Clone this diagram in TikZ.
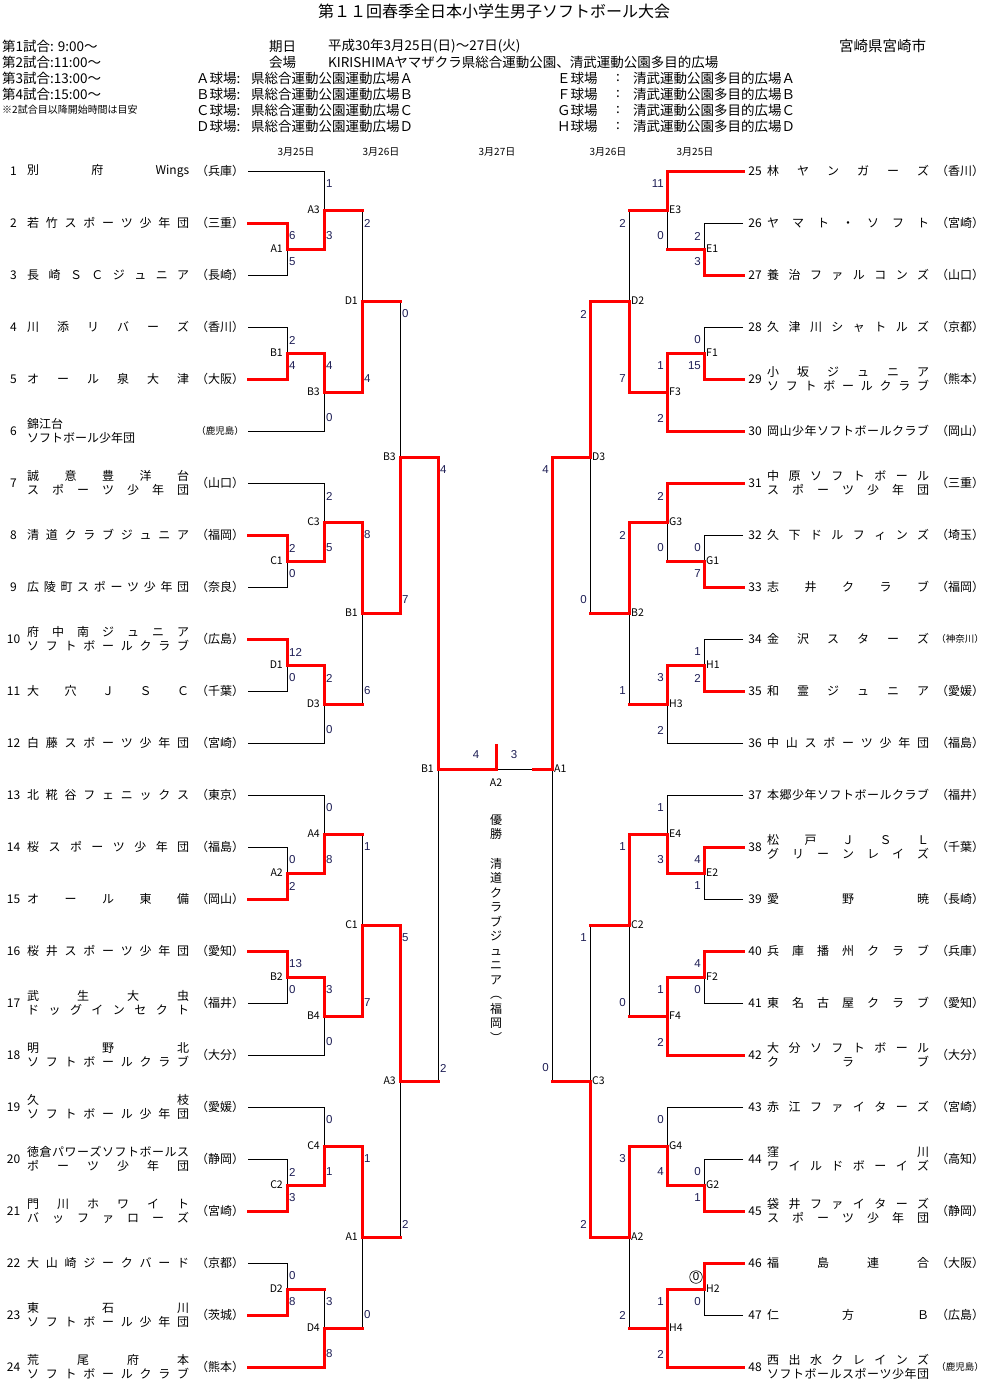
\documentclass[tikz,border=0pt]{standalone}
\usepackage{fontspec}
\setmainfont{Noto Sans CJK JP}
\newfontfamily\scfont{Liberation Sans}
\usetikzlibrary{calc}
\pgfdeclarelayer{fg}
\pgfsetlayers{main,fg}
\definecolor{scorecol}{RGB}{30,30,85}
\definecolor{winred}{RGB}{255,0,0}
\newcommand\pfsmall{\fontsize{9.5}{9.5}\selectfont}
\ExplSyntaxOn
\seq_new:N \l_spr_seq
\NewDocumentCommand \spr { O{162pt} m }
  {
    \seq_set_split:Nnn \l_spr_seq { ~ } { #2 }
    \makebox[#1]{ \seq_use:Nn \l_spr_seq { \hfill } }
  }
\ExplSyntaxOff
\tikzset{
 ln/.style={draw=black,line width=1pt},
 win/.style={draw=winred,line width=3pt,line cap=rect,line join=miter},
 sc/.style={inner sep=0pt,font=\scfont\fontsize{11.5}{11.5}\selectfont,text=scorecol},
 mlab/.style={inner sep=0pt,font=\fontsize{10.5}{11}\selectfont},
 nm/.style={inner sep=0pt,font=\fontsize{12}{12}\selectfont},
 num/.style={inner sep=0pt,font=\fontsize{12}{12}\selectfont},
 pf/.style={inner sep=0pt,font=\fontsize{12}{12}\selectfont},
 hd/.style={inner sep=0pt,anchor=west,font=\fontsize{13.5}{13.5}\selectfont},
 dt/.style={inner sep=0pt,font=\fontsize{10}{10}\selectfont},
}
% codes: 1 top wins, 2 bottom wins, 3 top wins + red stub of bottom,
% 4 bottom wins + red stub of top, 5 bottom wins + red top path
\newcommand\winpaths[3]{%
 \begin{pgfonlayer}{fg}
 \ifcase#3\or \draw[win] (#1) -| (#2);
 \or \draw[win] (#1) -| (#2);
 \or \draw[win] (#1) -| (#2);
 \or \draw[win] (#1) -| (#2);
 \or \draw[win] (#1) -| (#2);
 \fi
 \end{pgfonlayer}}
\newcommand\redpaths[4]{%
 \begin{pgfonlayer}{fg}
 \ifcase#4\or \draw[win] (#2) -| (#1);
 \or \draw[win] (#3) -| (#1);
 \or \draw[win] (#2) -| (#1); \draw[win] (#3) -- (#3 -| #1);
 \or \draw[win] (#3) -| (#1); \draw[win] (#2) -- (#2 -| #1);
 \or \draw[win] (#3) -| (#1); \draw[win] (#2) -| (#1);
 \fi
 \end{pgfonlayer}}
% match on the left half: name, x, junction y, top source, bottom source, label, top score, bottom score, code
\newcommand\mL[9]{%
 \coordinate (#1) at (#2,#3);
 \draw[ln] (#4) -| (#1);
 \draw[ln] (#5) -| (#1);
 \node[mlab,anchor=east] (#1-l) at ($(#1)+(-4,0)$) {#6};
 \node[sc,anchor=west] (#1-a) at ($(#1 |- #4)+(2,13)$) {#7};
 \node[sc,anchor=west] (#1-b) at ($(#1 |- #5)+(2,-13)$) {#8};
 \redpaths{#1}{#4}{#5}{#9}}
\newcommand\mR[9]{%
 \coordinate (#1) at (#2,#3);
 \draw[ln] (#4) -| (#1);
 \draw[ln] (#5) -| (#1);
 \node[mlab,anchor=west] (#1-l) at ($(#1)+(2,0)$) {#6};
 \node[sc,anchor=east] (#1-a) at ($(#1 |- #4)+(-3,13)$) {#7};
 \node[sc,anchor=east] (#1-b) at ($(#1 |- #5)+(-3,-13)$) {#8};
 \redpaths{#1}{#4}{#5}{#9}}
% teams
\newcommand\tL[4]{%
 \coordinate (t#1) at (248,#2);
 \node[num] (no#1) at (13.5,#2) {#1};
 \node[nm,anchor=west] (nm#1) at (27,#2) {\spr{#3}};
 \node[pf] (pf#1) at (220,#2) {#4};}
\newcommand\tLL[5]{%
 \coordinate (t#1) at (248,#2);
 \node[num] (no#1) at (13.5,#2) {#1};
 \node[nm,anchor=west] (nm#1a) at (27,#2-7) {\spr{#3}};
 \node[nm,anchor=west] (nm#1b) at (27,#2+7) {\spr{#4}};
 \node[pf] (pf#1) at (220,#2) {#5};}
\newcommand\tR[4]{%
 \coordinate (t#1) at (743,#2);
 \node[num] (no#1) at (755,#2) {#1};
 \node[nm,anchor=west] (nm#1) at (767,#2) {\spr{#3}};
 \node[pf] (pf#1) at (960,#2) {#4};}
\newcommand\tRR[5]{%
 \coordinate (t#1) at (743,#2);
 \node[num] (no#1) at (755,#2) {#1};
 \node[nm,anchor=west] (nm#1a) at (767,#2-7) {\spr{#3}};
 \node[nm,anchor=west] (nm#1b) at (767,#2+7) {\spr{#4}};
 \node[pf] (pf#1) at (960,#2) {#5};}
\begin{document}
\begin{tikzpicture}[x=1pt,y=-1pt]
\useasboundingbox (0,0) rectangle (990,1394);
\fill[white] (0,0) rectangle (990,1394);
% header
\node[inner sep=0pt,font=\fontsize{16}{16}\selectfont] (title) at (494,11) {第１１回春季全日本小学生男子ソフトボール大会};
\node[hd] (g1) at (2,46) {第1試合: 9:00～};
\node[hd] (g2) at (2,62) {第2試合:11:00～};
\node[hd] (g3) at (2,78) {第3試合:13:00～};
\node[hd] (g4) at (2,94) {第4試合:15:00～};
\node[hd,font=\fontsize{10}{10}\selectfont] (g5) at (2,110) {※2試合目以降開始時間は目安};
\node[hd] (kd) at (269,46) {期日};
\node[hd] (kdv) at (328,46) {平成30年3月25日(日)～27日(火)};
\node[hd] (kj) at (269,62) {会場};
\node[hd] (kjv) at (328,62) {KIRISHIMAヤマザクラ県総合運動公園、清武運動公園多目的広場};
\node[hd,font=\fontsize{14.5}{14.5}\selectfont] (miy) at (839,46) {宮崎県宮崎市};
\node[hd] (fa) at (196,78) {Ａ球場:};
\node[hd] (fav) at (251,78) {県総合運動公園運動広場Ａ};
\node[hd] (fb) at (196,94) {Ｂ球場:};
\node[hd] (fbv) at (251,94) {県総合運動公園運動広場Ｂ};
\node[hd] (fc) at (196,110) {Ｃ球場:};
\node[hd] (fcv) at (251,110) {県総合運動公園運動広場Ｃ};
\node[hd] (fd) at (196,126) {Ｄ球場:};
\node[hd] (fdv) at (251,126) {県総合運動公園運動広場Ｄ};
\node[hd] (fe) at (557,78) {Ｅ球場};
\node[hd] (fec) at (616,78) {:};
\node[hd] (fev) at (633,78) {清武運動公園多目的広場Ａ};
\node[hd] (ff) at (557,94) {Ｆ球場};
\node[hd] (ffc) at (616,94) {:};
\node[hd] (ffv) at (633,94) {清武運動公園多目的広場Ｂ};
\node[hd] (fg) at (557,110) {Ｇ球場};
\node[hd] (fgc) at (616,110) {:};
\node[hd] (fgv) at (633,110) {清武運動公園多目的広場Ｃ};
\node[hd] (fh) at (557,126) {Ｈ球場};
\node[hd] (fhc) at (616,126) {:};
\node[hd] (fhv) at (633,126) {清武運動公園多目的広場Ｄ};
\node[dt] (d1) at (296,152) {3月25日};
\node[dt] (d2) at (381,152) {3月26日};
\node[dt] (d3) at (497,152) {3月27日};
\node[dt] (d4) at (608,152) {3月26日};
\node[dt] (d5) at (695,152) {3月25日};
% left teams
\tL{1}{171}{別 府 Wings}{（兵庫）}
\tL{2}{223}{若 竹 ス ポ ー ツ 少 年 団}{（三重）}
\tL{3}{275}{長 崎 Ｓ Ｃ ジ ュ ニ ア}{（長崎）}
\tL{4}{327}{川 添 リ バ ー ズ}{（香川）}
\tL{5}{379}{オ ー ル 泉 大 津}{（大阪）}
\coordinate (t6) at (248,431);
\node[num] (no6) at (13.5,431) {6};
\node[nm,anchor=west] (nm6a) at (27,424) {錦江台};
\node[nm,anchor=west] (nm6b) at (27,438) {ソフトボール少年団};
\node[pf] (pf6) at (220,431) {\pfsmall（鹿児島）};
\tLL{7}{483}{誠 意 豊 洋 台}{ス ポ ー ツ 少 年 団}{（山口）}
\tL{8}{535}{清 道 ク ラ ブ ジ ュ ニ ア}{（福岡）}
\tL{9}{587}{広 陵 町 ス ポ ー ツ 少 年 団}{（奈良）}
\tLL{10}{639}{府 中 南 ジ ュ ニ ア}{ソ フ ト ボ ー ル ク ラ ブ}{（広島）}
\tL{11}{691}{大 穴 Ｊ Ｓ Ｃ}{（千葉）}
\tL{12}{743}{白 藤 ス ポ ー ツ 少 年 団}{（宮崎）}
\tL{13}{795}{北 糀 谷 フ ェ ニ ッ ク ス}{（東京）}
\tL{14}{847}{桜 ス ポ ー ツ 少 年 団}{（福島）}
\tL{15}{899}{オ ー ル 東 備}{（岡山）}
\tL{16}{951}{桜 井 ス ポ ー ツ 少 年 団}{（愛知）}
\tLL{17}{1003}{武 生 大 虫}{ド ッ グ イ ン セ ク ト}{（福井）}
\tLL{18}{1055}{明 野 北}{ソ フ ト ボ ー ル ク ラ ブ}{（大分）}
\tLL{19}{1107}{久 枝}{ソ フ ト ボ ー ル 少 年 団}{（愛媛）}
\tLL{20}{1159}{徳 倉 パ ワ ー ズ ソ フ ト ボ ー ル ス}{ポ ー ツ 少 年 団}{（静岡）}
\tLL{21}{1211}{門 川 ホ ワ イ ト}{バ ッ フ ァ ロ ー ズ}{（宮崎）}
\tL{22}{1263}{大 山 崎 ジ ー ク バ ー ド}{（京都）}
\tLL{23}{1315}{東 石 川}{ソ フ ト ボ ー ル 少 年 団}{（茨城）}
\tLL{24}{1367}{荒 尾 府 本}{ソ フ ト ボ ー ル ク ラ ブ}{（熊本）}
% right teams
\tR{25}{171}{林 ヤ ン ガ ー ズ}{（香川）}
\tR{26}{223}{ヤ マ ト ・ ソ フ ト}{（宮崎）}
\tR{27}{275}{養 治 フ ァ ル コ ン ズ}{（山口）}
\tR{28}{327}{久 津 川 シ ャ ト ル ズ}{（京都）}
\tRR{29}{379}{小 坂 ジ ュ ニ ア}{ソ フ ト ボ ー ル ク ラ ブ}{（熊本）}
\tR{30}{431}{岡 山 少 年 ソ フ ト ボ ー ル ク ラ ブ}{（岡山）}
\tRR{31}{483}{中 原 ソ フ ト ボ ー ル}{ス ポ ー ツ 少 年 団}{（三重）}
\tR{32}{535}{久 下 ド ル フ ィ ン ズ}{（埼玉）}
\tR{33}{587}{志 井 ク ラ ブ}{（福岡）}
\tR{34}{639}{金 沢 ス タ ー ズ}{\pfsmall（神奈川）}
\tR{35}{691}{和 霊 ジ ュ ニ ア}{（愛媛）}
\tR{36}{743}{中 山 ス ポ ー ツ 少 年 団}{（福島）}
\tR{37}{795}{本 郷 少 年 ソ フ ト ボ ー ル ク ラ ブ}{（福井）}
\tRR{38}{847}{松 戸 Ｊ Ｓ Ｌ}{グ リ ー ン レ イ ズ}{（千葉）}
\tR{39}{899}{愛 野 暁}{（長崎）}
\tR{40}{951}{兵 庫 播 州 ク ラ ブ}{（兵庫）}
\tR{41}{1003}{東 名 古 屋 ク ラ ブ}{（愛知）}
\tRR{42}{1055}{大 分 ソ フ ト ボ ー ル}{ク ラ ブ}{（大分）}
\tR{43}{1107}{赤 江 フ ァ イ タ ー ズ}{（宮崎）}
\tRR{44}{1159}{窪 川}{ワ イ ル ド ボ ー イ ズ}{（高知）}
\tRR{45}{1211}{袋 井 フ ァ イ タ ー ズ}{ス ポ ー ツ 少 年 団}{（静岡）}
\tR{46}{1263}{福 島 連 合}{（大阪）}
\tR{47}{1315}{仁 方 Ｂ}{（広島）}
\tRR{48}{1367}{西 出 水 ク レ イ ン ズ}{ソ フ ト ボ ー ル ス ポ ー ツ 少 年 団}{\pfsmall（鹿児島）}
% left bracket
\mL{LA1}{287}{249}{t2}{t3}{A1}{6}{5}{1}
\mL{LB1}{287}{353}{t4}{t5}{B1}{2}{4}{2}
\mL{LC1}{287}{561}{t8}{t9}{C1}{2}{0}{1}
\mL{LD1}{287}{665}{t10}{t11}{D1}{12}{0}{1}
\mL{LA2}{287}{873}{t14}{t15}{A2}{0}{2}{2}
\mL{LB2}{287}{977}{t16}{t17}{B2}{13}{0}{1}
\mL{LC2}{287}{1185}{t20}{t21}{C2}{2}{3}{2}
\mL{LD2}{287}{1289}{t22}{t23}{D2}{0}{8}{2}
\mL{LA3}{324}{210}{t1}{LA1}{A3}{1}{3}{2}
\mL{LB3}{324}{392}{LB1}{t6}{B3}{4}{0}{1}
\mL{LC3}{324}{522}{t7}{LC1}{C3}{2}{5}{2}
\mL{LD3}{324}{704}{LD1}{t12}{D3}{2}{0}{1}
\mL{LA4}{324}{834}{t13}{LA2}{A4}{0}{8}{2}
\mL{LB4}{324}{1016}{LB2}{t18}{B4}{3}{0}{1}
\mL{LC4}{324}{1146}{t19}{LC2}{C4}{0}{1}{2}
\mL{LD4}{324}{1328}{LD2}{t24}{D4}{3}{8}{4}
\mL{LD1b}{362}{301}{LA3}{LB3}{D1}{2}{4}{4}
\mL{LB1b}{362}{613}{LC3}{LD3}{B1}{8}{6}{3}
\mL{LC1b}{362}{925}{LA4}{LB4}{C1}{1}{7}{4}
\mL{LA1b}{362}{1237}{LC4}{LD4}{A1}{1}{0}{3}
\mL{LB3b}{400}{457}{LD1b}{LB1b}{B3}{0}{7}{4}
\mL{LA3b}{400}{1081}{LC1b}{LA1b}{A3}{5}{2}{3}
\mL{LB1c}{438}{769}{LB3b}{LA3b}{B1}{4}{2}{3}
% right bracket
\mR{RE1}{704}{249}{t26}{t27}{E1}{2}{3}{2}
\mR{RF1}{704}{353}{t28}{t29}{F1}{0}{15}{2}
\mR{RG1}{704}{561}{t32}{t33}{G1}{0}{7}{2}
\mR{RH1}{704}{665}{t34}{t35}{H1}{1}{2}{2}
\mR{RE2}{704}{873}{t38}{t39}{E2}{4}{1}{1}
\mR{RF2}{704}{977}{t40}{t41}{F2}{4}{0}{1}
\mR{RG2}{704}{1185}{t44}{t45}{G2}{0}{1}{2}
\mR{RH2}{704}{1289}{t46}{t47}{H2}{}{0}{1}
\mR{RE3}{667}{210}{t25}{RE1}{E3}{11}{0}{3}
\mR{RF3}{667}{392}{RF1}{t30}{F3}{1}{2}{5}
\mR{RG3}{667}{522}{t31}{RG1}{G3}{2}{0}{3}
\mR{RH3}{667}{704}{RH1}{t36}{H3}{3}{2}{1}
\mR{RE4}{667}{834}{t37}{RE2}{E4}{1}{3}{2}
\mR{RF4}{667}{1016}{RF2}{t42}{F4}{1}{2}{5}
\mR{RG4}{667}{1146}{t43}{RG2}{G4}{0}{4}{2}
\mR{RH4}{667}{1328}{RH2}{t48}{H4}{1}{2}{5}
\mR{RD2}{629}{301}{RE3}{RF3}{D2}{2}{7}{4}
\mR{RB2}{629}{613}{RG3}{RH3}{B2}{2}{1}{3}
\mR{RC2}{629}{925}{RE4}{RF4}{C2}{1}{0}{3}
\mR{RA2}{629}{1237}{RG4}{RH4}{A2}{3}{2}{3}
\mR{RD3}{590}{457}{RD2}{RB2}{D3}{2}{0}{3}
\mR{RC3}{590}{1081}{RC2}{RA2}{C3}{1}{2}{4}
\mR{RA1}{552}{769}{RD3}{RC3}{A1}{4}{0}{3}
\node[sc,circle,draw=black,line width=0.6pt,inner sep=0.8pt,text=black] (RH2-c) at (696,1277) {0};
% final
\coordinate (fin) at (496,769);
\coordinate (fintop) at (496,745);
\coordinate (rstub) at (533,769);
\draw[ln] (LB1c) -- (RA1);
\begin{pgfonlayer}{fg}
\draw[win] (LB1c) -- (fin) -- (fintop);
\draw[win] (RA1) -- (rstub);
\end{pgfonlayer}
\node[sc] (fs1) at (476,755) {4};
\node[sc] (fs2) at (514,755) {3};
\node[mlab] (finlab) at (496,783) {A2};
\node[inner sep=0pt,align=center,font=\fontsize{12}{14}\selectfont,anchor=north] (yusho) at (496,814) {優\\勝};
\node[inner sep=0pt,align=center,font=\fontsize{12}{14.5}\selectfont,anchor=north] (champ) at (496,858) {清\\道\\ク\\ラ\\ブ\\ジ\\ュ\\ニ\\ア\\︵\\福\\岡\\︶};
\end{tikzpicture}
\end{document}
